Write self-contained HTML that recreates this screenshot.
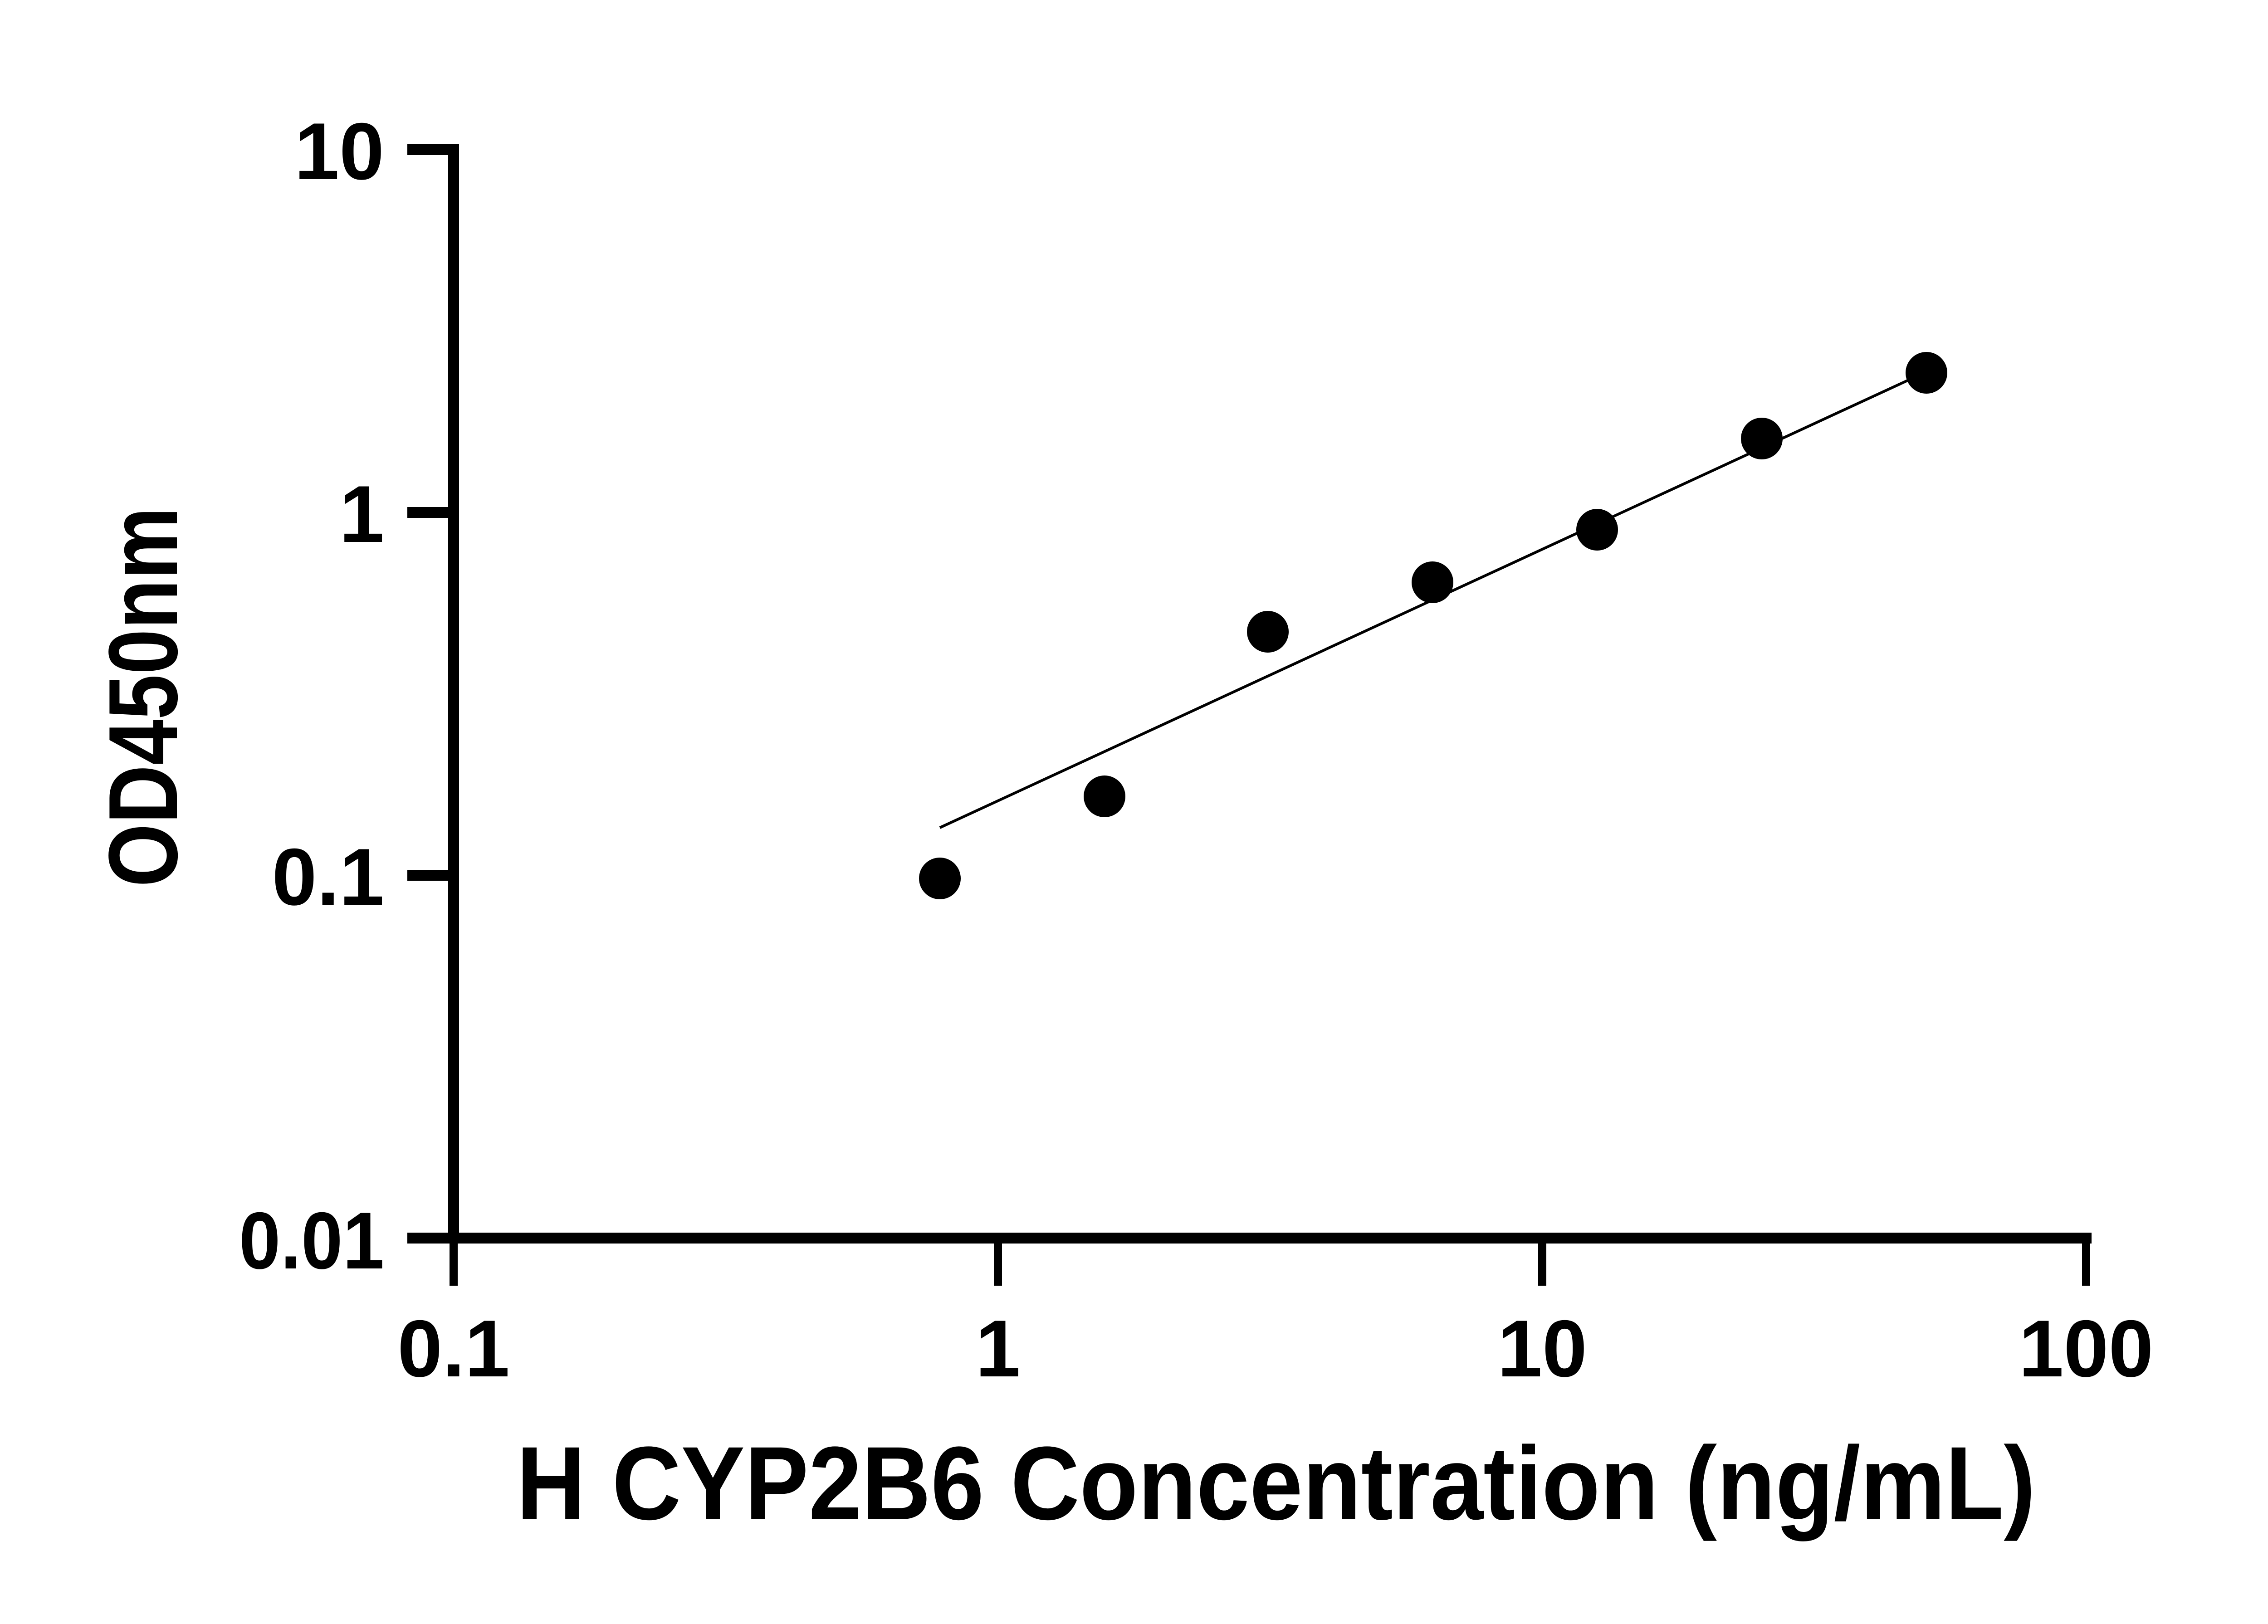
<!DOCTYPE html>
<html><head><style>html,body{margin:0;padding:0;background:#fff}</style></head>
<body>
<svg width="5170" height="3576" viewBox="0 0 5170 3576" xmlns="http://www.w3.org/2000/svg" font-family="Liberation Sans, sans-serif" font-weight="bold">
<rect width="5170" height="3576" fill="#fff"/>
<g stroke="#000" stroke-width="24" fill="none">
<line x1="1000" y1="318" x2="1000" y2="2742"/>
<line x1="988" y1="2730" x2="4611" y2="2730"/>
<line x1="898" y1="330" x2="1000" y2="330"/>
<line x1="898" y1="1130" x2="1000" y2="1130"/>
<line x1="898" y1="1930" x2="1000" y2="1930"/>
<line x1="898" y1="2730" x2="1000" y2="2730"/>
<line x1="1000" y1="2730" x2="1000" y2="2835" stroke-width="18"/>
<line x1="2200" y1="2730" x2="2200" y2="2835" stroke-width="18"/>
<line x1="3400" y1="2730" x2="3400" y2="2835" stroke-width="18"/>
<line x1="4599" y1="2730" x2="4599" y2="2835" stroke-width="18"/>
</g>
<g font-size="178" text-anchor="end">
<text x="847" y="395">10</text>
<text x="847" y="1195">1</text>
<text x="847" y="1995">0.1</text>
<text x="847" y="2797" textLength="320" lengthAdjust="spacingAndGlyphs">0.01</text>
</g>
<g font-size="178" text-anchor="middle">
<text x="1000" y="3035">0.1</text>
<text x="2200" y="3035">1</text>
<text x="3400" y="3035">10</text>
<text x="4599" y="3035">100</text>
</g>
<text x="2813" y="3350" font-size="230" text-anchor="middle" textLength="3349" lengthAdjust="spacingAndGlyphs">H CYP2B6 Concentration (ng/mL)</text>
<text transform="translate(390,1537) rotate(-90)" font-size="216" text-anchor="middle" textLength="838" lengthAdjust="spacingAndGlyphs">OD450nm</text>
<line x1="2072" y1="1825" x2="4214" y2="835" stroke="#000" stroke-width="6"/>
<g fill="#000">
<circle cx="2072" cy="1937" r="46"/>
<circle cx="2435" cy="1756" r="46"/>
<circle cx="2795" cy="1393" r="46"/>
<circle cx="3158" cy="1284" r="46"/>
<circle cx="3521" cy="1168" r="46"/>
<circle cx="3884" cy="967" r="46"/>
<circle cx="4247" cy="822" r="46"/>
</g>
</svg>
</body></html>
